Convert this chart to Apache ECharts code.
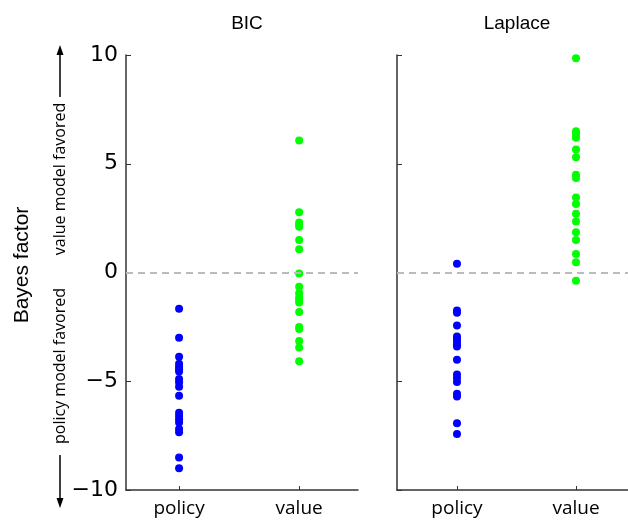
<!DOCTYPE html>
<html>
<head>
<meta charset="utf-8">
<script src="https://cdn.jsdelivr.net/npm/echarts@6/dist/echarts.min.js"></script>
<style>
  html, body { margin: 0; padding: 0; background: #fff; }
  #chart { width: 628px; height: 521px; }
</style>
</head>
<body>
<div id="chart"></div>
<script>
// categories on the x axis of each panel
const categories = ['policy', 'value']
const panelTitles = ['BIC', 'Laplace']

// Bayes factor per subject
const bicPolicy = [-1.67, -3.0, -3.87, -4.2, -4.35, -4.45, -4.55, -4.9, -5.05, -5.25, -5.67,
  -6.45, -6.6, -6.75, -6.9, -7.2, -7.35, -8.5, -9.0]
const bicValue = [6.07, 2.77, 2.3, 2.2, 2.1, 1.5, 1.07, -0.05, -0.65, -0.95, -1.15, -1.25, -1.38,
  -1.82, -2.5, -2.6, -3.15, -3.45, -4.08]
const laplacePolicy = [0.4, -1.75, -1.85, -2.44, -2.94, -3.05, -3.15, -3.3, -3.4, -4.01,
  -4.69, -4.85, -5.04, -5.58, -5.7, -6.93, -7.42]
const laplaceValue = [9.85, 6.5, 6.35, 6.2, 5.65, 5.3, 4.5, 4.35, 3.45, 3.15, 2.7, 2.35,
  1.85, 1.5, 0.85, 0.47, -0.38]

const yTicks = { min: -10, max: 10, interval: 5 }

const chart = echarts.init(document.getElementById('chart'))

const axisColor = '#333'
const labelFont = 'DejaVu Sans'
const catFont = 'Open Sans'

function pts(cat, vals) {
  const x = categories.indexOf(cat) + 1
  return vals.map(v => [x, v])
}

function xAxis(idx, min, max) {
  return {
    gridIndex: idx,
    type: 'value',
    min: min,
    max: max,
    splitLine: { show: false },
    axisLine: { show: true, onZero: false, lineStyle: { color: axisColor, width: 1.5 } },
    axisTick: { show: true, inside: true, length: 4, customValues: [1, 2], lineStyle: { color: axisColor } },
    axisLabel: {
      customValues: [1, 2],
      formatter: v => categories[v - 1] || '',
      color: '#000',
      fontFamily: catFont,
      fontSize: 19,
      margin: 9
    }
  }
}

function yAxis(idx, showLabels) {
  return {
    gridIndex: idx,
    type: 'value',
    min: yTicks.min,
    max: yTicks.max,
    interval: yTicks.interval,
    splitLine: { show: false },
    axisLine: { show: true, lineStyle: { color: axisColor, width: 1.5 } },
    axisTick: { show: true, inside: true, length: 5, lineStyle: { color: axisColor } },
    axisLabel: {
      show: showLabels,
      formatter: v => String(v).replace('-', '\u2212'),
      color: '#000',
      fontFamily: labelFont,
      fontSize: 22,
      margin: 8
    }
  }
}

const zeroLine = {
  silent: true,
  symbol: 'none',
  label: { show: false },
  lineStyle: { color: '#bbb', type: [7, 5], width: 2 },
  data: [{ yAxis: 0 }]
}

function scatter(idx, data, color, withLine) {
  const s = {
    type: 'scatter',
    xAxisIndex: idx,
    yAxisIndex: idx,
    data: data,
    symbolSize: 8,
    itemStyle: { color: color, opacity: 1 },
    z: 3
  }
  if (withLine) s.markLine = zeroLine
  return s
}

// arrow helpers for the side annotation
function arrow(x, y1, y2) {
  const dir = y2 < y1 ? -1 : 1
  return [
    { type: 'line', shape: { x1: x, y1: y1, x2: x, y2: y2 - dir * 6 }, style: { stroke: '#000', lineWidth: 1.5 } },
    { type: 'polygon', shape: { points: [[x, y2], [x - 3.5, y2 - dir * 10], [x + 3.5, y2 - dir * 10]] }, style: { fill: '#000' } }
  ]
}

chart.setOption({
  animation: false,
  backgroundColor: '#fff',
  title: [
    { text: panelTitles[0], left: 242, top: 9, textAlign: 'center',
      textStyle: { fontFamily: 'Liberation Sans', fontSize: 19, fontWeight: 'normal', color: '#000' } },
    { text: panelTitles[1], left: 512, top: 9, textAlign: 'center',
      textStyle: { fontFamily: 'Liberation Sans', fontSize: 19, fontWeight: 'normal', color: '#000' } }
  ],
  grid: [
    { left: 126, right: 270, top: 55, bottom: 31 },
    { left: 397, right: 0, top: 55, bottom: 31 }
  ],
  xAxis: [xAxis(0, 0.558, 2.49), xAxis(1, 0.496, 2.437)],
  yAxis: [yAxis(0, true), yAxis(1, false)],
  series: [
    scatter(0, pts('policy', bicPolicy), '#0000ff', true),
    scatter(0, pts('value', bicValue), '#00ff00', false),
    scatter(1, pts('policy', laplacePolicy), '#0000ff', true),
    scatter(1, pts('value', laplaceValue), '#00ff00', false)
  ],
  graphic: [
    { type: 'text', x: 22, y: 265, rotation: Math.PI / 2,
      style: { text: 'Bayes factor', fontFamily: 'Liberation Sans', fontSize: 21, fill: '#000',
        align: 'center', verticalAlign: 'middle' } },
    { type: 'text', x: 60, y: 179, rotation: Math.PI / 2,
      style: { text: 'value model favored', fontFamily: catFont, fontSize: 16, fill: '#000',
        align: 'center', verticalAlign: 'middle' } },
    { type: 'text', x: 60, y: 366, rotation: Math.PI / 2,
      style: { text: 'policy model favored', fontFamily: catFont, fontSize: 16, fill: '#000',
        align: 'center', verticalAlign: 'middle' } },
    ...arrow(60, 97, 45),
    ...arrow(60, 455, 508)
  ]
})
</script>
</body>
</html>
